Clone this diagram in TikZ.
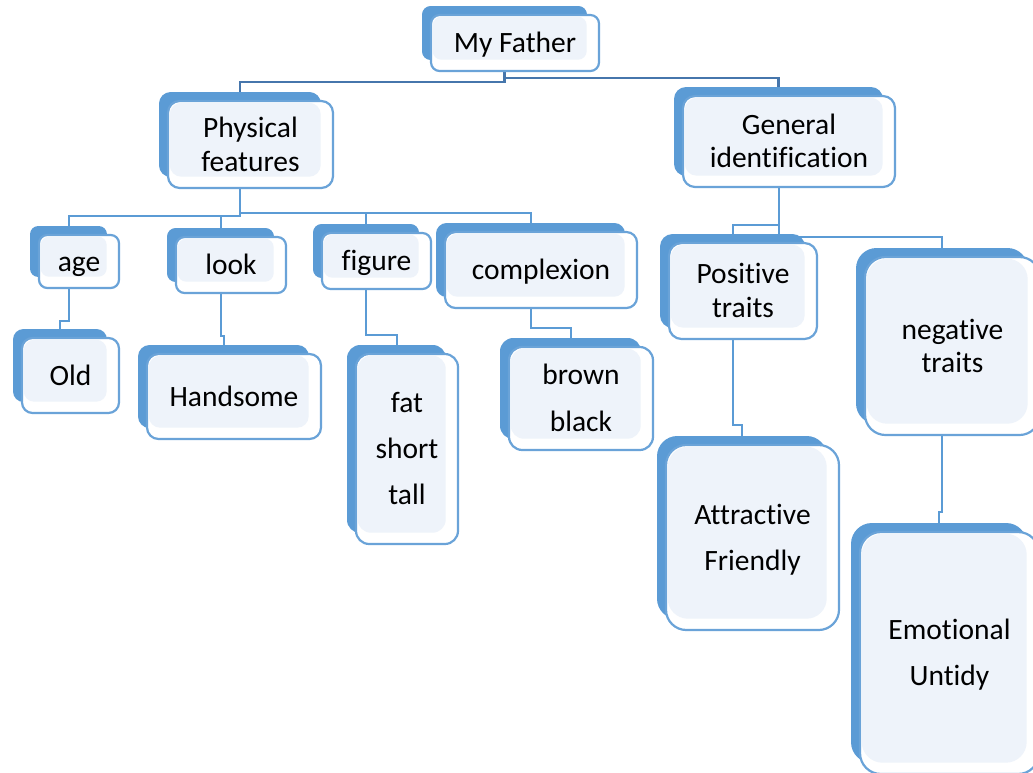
\documentclass[tikz,border=0pt]{standalone}
\usepackage{fontspec}
\setmainfont{Carlito}[Ligatures=NoCommon]
\pgfdeclarelayer{bg}
\pgfsetlayers{bg,main}
\definecolor{sablue}{HTML}{5B9BD5}
\definecolor{saborder}{HTML}{6AA3D8}
\definecolor{salight}{HTML}{EEF3FA}
\definecolor{sadark}{HTML}{4676AC}
\tikzset{
  backbox/.style={rectangle, fill=sablue, inner sep=0pt, outer sep=0pt},
  frontbox/.style={rectangle, fill=white, draw=saborder, line width=2.2pt, inner sep=0pt, outer sep=0pt},
  lightbox/.style={rectangle, fill=salight, inner sep=0pt, outer sep=0pt},
  txt/.style={align=center, inner sep=0pt, text=black},
  conn/.style={draw=sablue, line width=2pt},
  connd/.style={draw=sadark, line width=2.4pt},
}
\newcommand\tst{\rule[-7pt]{0pt}{33pt}}
\newcommand\tbox[7]{%
  \pgfmathsetmacro\bx{(#2+#4)/2-10.5}%
  \pgfmathsetmacro\by{(#3+#5)/2-10}%
  \pgfmathsetmacro\bw{#4-#2-3}%
  \pgfmathsetmacro\bh{#5-#3-2}%
  \pgfmathsetmacro\fx{(#2+#4)/2}%
  \pgfmathsetmacro\fy{(#3+#5)/2}%
  \pgfmathsetmacro\fw{#4-#2}%
  \pgfmathsetmacro\fh{#5-#3}%
  \pgfmathsetmacro\lx{(#2+#4)/2-5.3}%
  \pgfmathsetmacro\ly{(#3+#5)/2-4.8}%
  \pgfmathsetmacro\lw{#4-#2-14}%
  \pgfmathsetmacro\lh{#5-#3-13}%
  \pgfmathsetmacro\rr{0.1*min(#4-#2,#5-#3)+3}%
  \node[backbox, minimum width=\bw pt, minimum height=\bh pt, rounded corners=\rr pt] (#1) at (\bx,\by) {};
  \node[frontbox, minimum width=\fw pt, minimum height=\fh pt, rounded corners=\rr pt] (#1-f) at (\fx,\fy) {};
  \node[lightbox, minimum width=\lw pt, minimum height=\lh pt, rounded corners=\rr pt] (#1-l) at (\lx,\ly) {};
  \node[txt, font=\fontsize{29.5}{#7}\selectfont] (#1-t) at (\fx,\fy) {#6};
}
\begin{document}
\begin{tikzpicture}[x=1pt,y=-1pt]
\useasboundingbox (0,0) rectangle (1033,772);
\clip (0,0) rectangle (1033,772);
% boxes (front coordinates: x1,y1,x2,y2)
\tbox{mf}{431}{15}{599}{71}{\tst My Father}{34}
\tbox{pf}{168}{101}{333}{188}{\tst Physical\\\tst features}{34}
\tbox{gi}{683}{96}{895}{187}{\tst General\\\tst identification}{33}
\tbox{age}{39}{235}{119}{288}{\tst age}{34}
\tbox{look}{176}{237}{286}{293}{\tst look}{34}
\tbox{fig}{322}{233}{431}{289}{\tst figure}{34}
\tbox{cpx}{445}{232}{637}{308}{\tst complexion}{34}
\tbox{pos}{669}{243}{817}{339}{\tst Positive\\\tst traits}{34}
\tbox{neg}{865}{257}{1040}{435}{\tst negative\\\tst traits}{33}
\tbox{old}{22}{338}{119}{413}{\tst Old}{46}
\tbox{hand}{147}{354}{321}{439}{\tst Handsome}{46}
\tbox{fst}{356}{354}{458}{544}{\tst fat\\\tst short\\\tst tall}{46}
\tbox{brb}{509}{347}{653}{450}{\tst brown\\\tst black}{47}
\tbox{att}{666}{445}{839}{630}{\tst Attractive\\\tst Friendly}{46}
\tbox{emo}{860}{532}{1039}{774}{\tst Emotional\\\tst Untidy}{46}
% elbow levels
\coordinate (y1a) at (0,82);
\coordinate (y1b) at (0,78);
\coordinate (y2a) at (0,216);
\coordinate (y2b) at (0,213);
\coordinate (y2c) at (0,225);
\coordinate (y2d) at (0,237);
\coordinate (y3a) at (0,321);
\coordinate (y3b) at (0,336);
\coordinate (y3c) at (0,335);
\coordinate (y3d) at (0,328);
\coordinate (y3e) at (0,425);
\coordinate (y3f) at (0,512);
\begin{pgfonlayer}{bg}
\draw[connd] (mf.south) -- (mf.south |- y1a) -| (pf.north);
\draw[connd] (mf.south) -- (mf.south |- y1b) -| (gi.north);
\draw[conn] (pf.south) -- (pf.south |- y2a) -| (age.north);
\draw[conn] (pf.south) -- (pf.south |- y2a) -| (look.north);
\draw[conn] (pf.south) -- (pf.south |- y2b) -| (fig.north);
\draw[conn] (pf.south) -- (pf.south |- y2b) -| (cpx.north);
\draw[conn] (gi.south) -- (gi.south |- y2c) -| (pos.north);
\draw[conn] (gi.south) -- (gi.south |- y2d) -| (neg.north);
\draw[conn] (age.south) -- (age.south |- y3a) -| (old.north);
\draw[conn] (look.south) -- (look.south |- y3b) -| (hand.north);
\draw[conn] (fig.south) -- (fig.south |- y3c) -| (fst.north);
\draw[conn] (cpx.south) -- (cpx.south |- y3d) -| (brb.north);
\draw[conn] (pos.south) -- (pos.south |- y3e) -| (att.north);
\draw[conn] (neg.south) -- (neg.south |- y3f) -| (emo.north);
\end{pgfonlayer}
\end{tikzpicture}
\end{document}
